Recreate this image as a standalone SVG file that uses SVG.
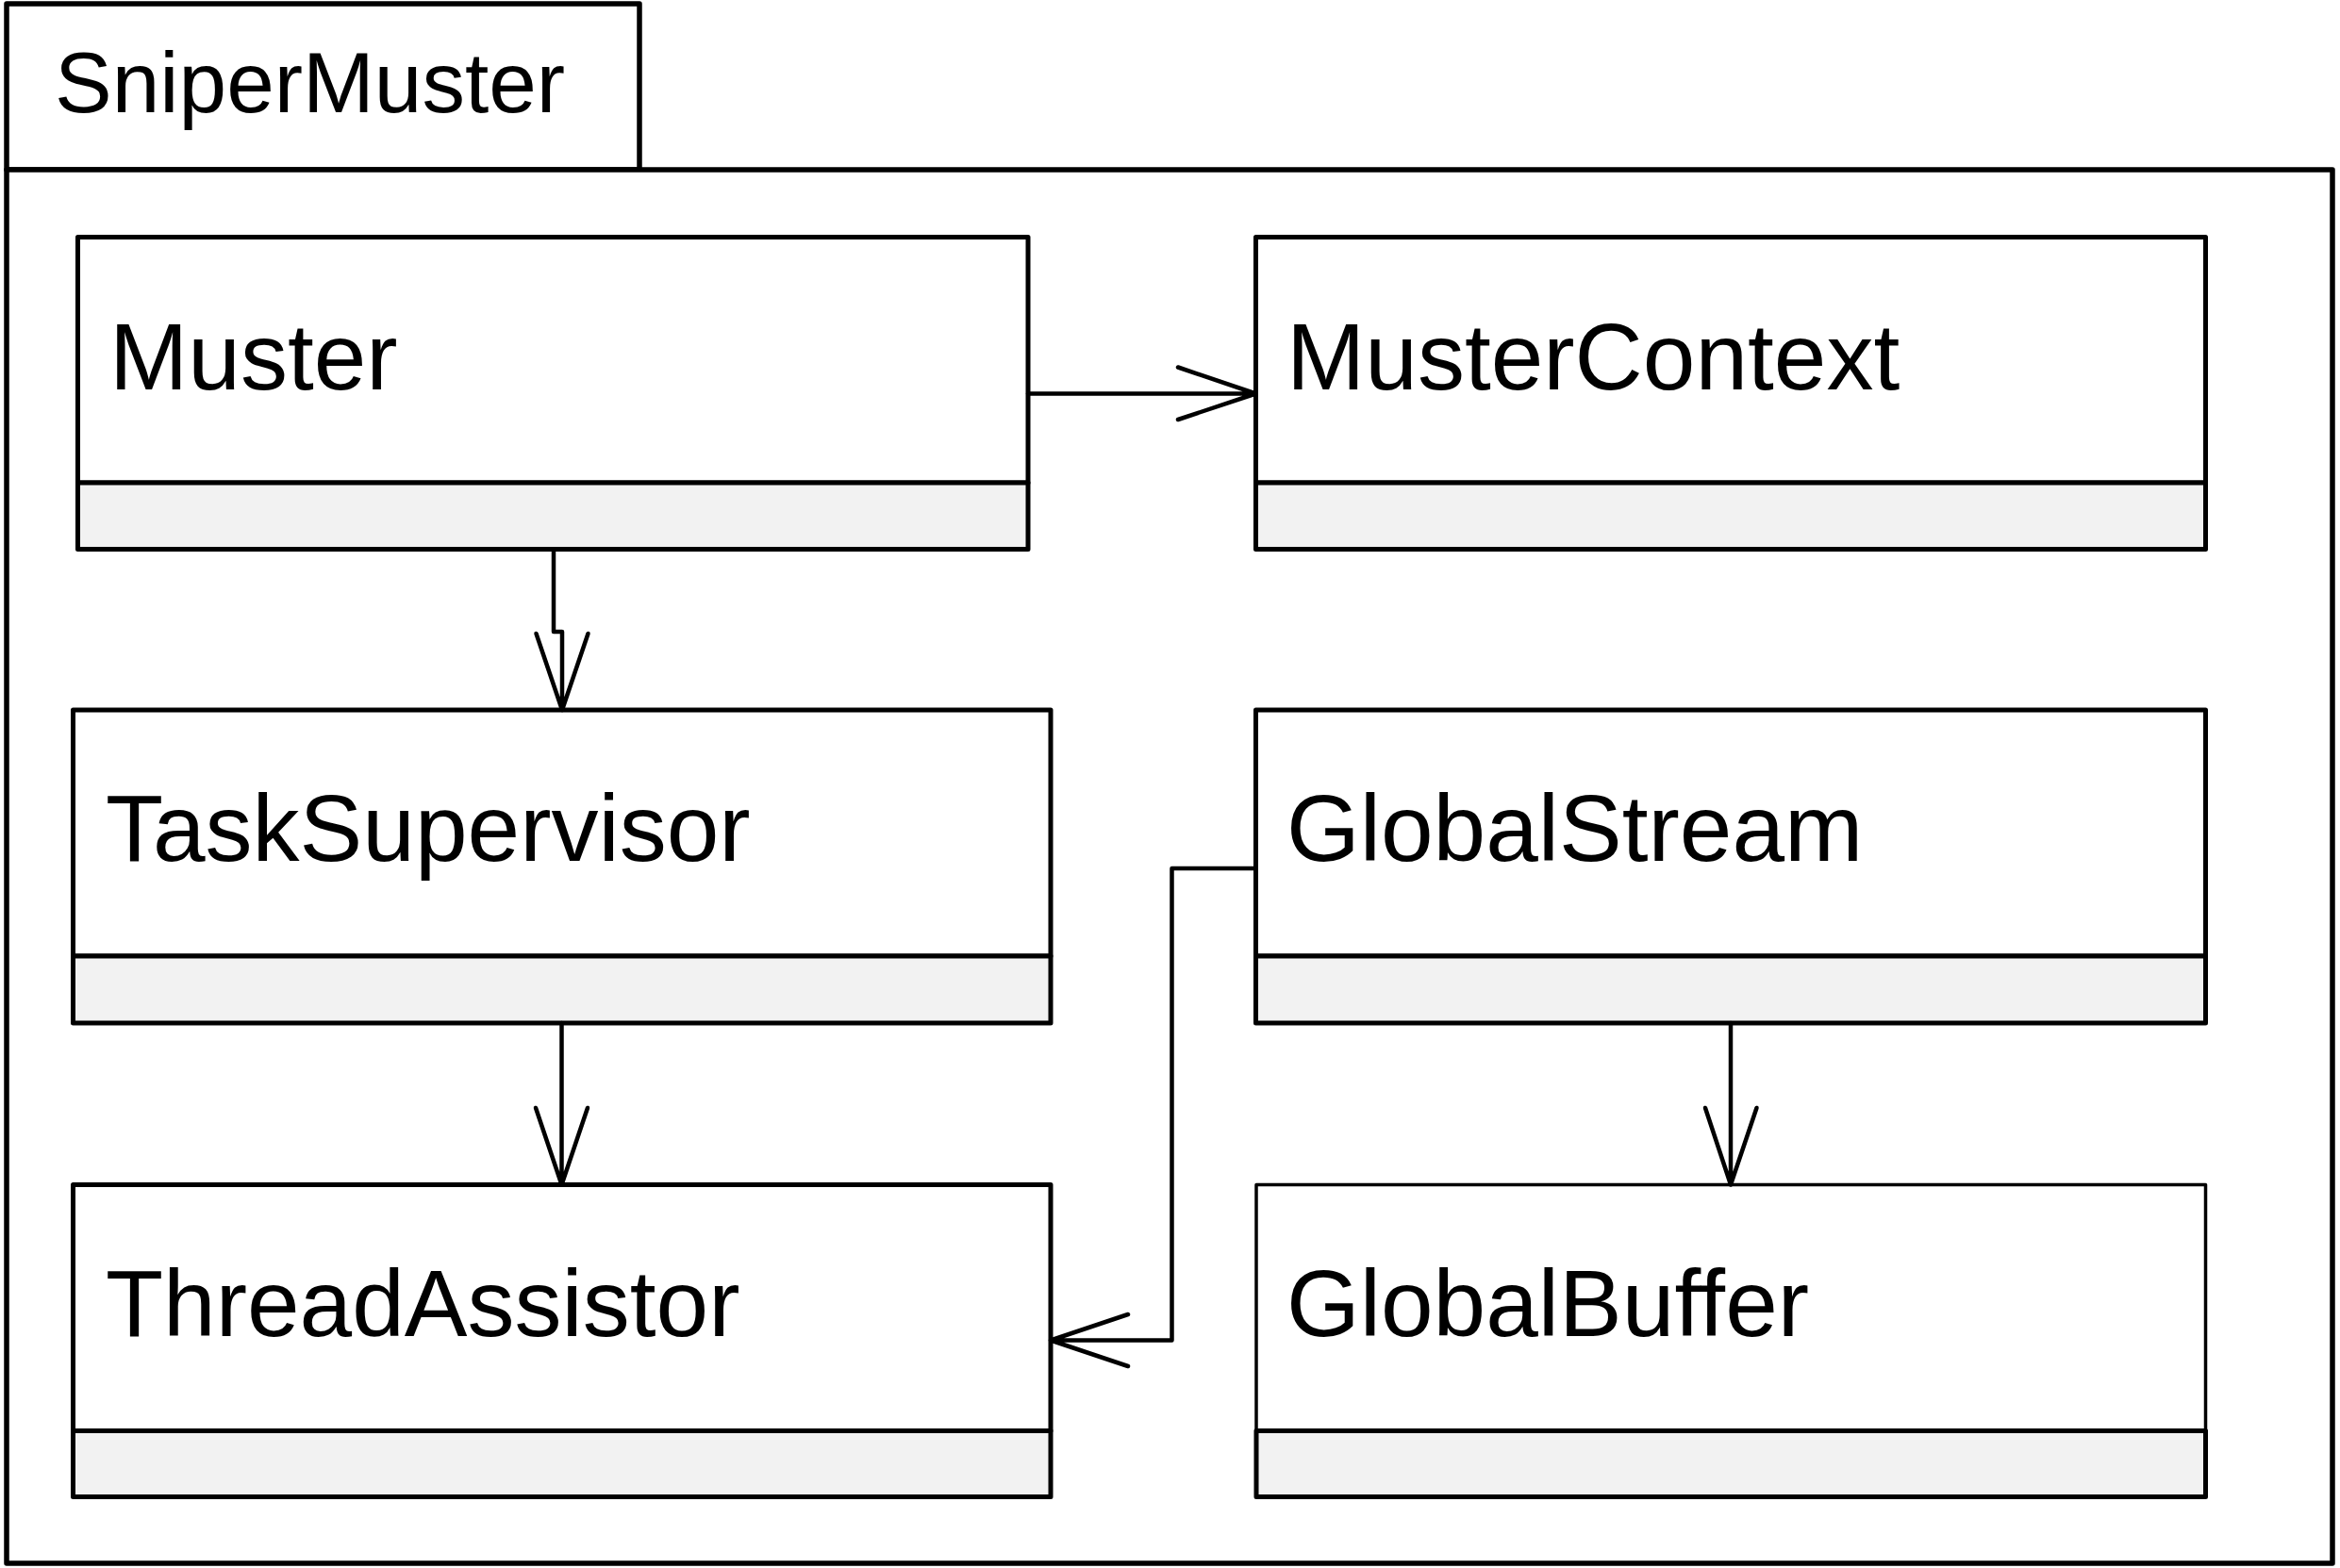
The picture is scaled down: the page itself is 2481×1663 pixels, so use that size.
<svg xmlns="http://www.w3.org/2000/svg" width="2481" height="1663" viewBox="0 0 2481 1663">
<style>
.pkg{fill:#fff;stroke:#000;stroke-width:5.5;stroke-linejoin:round}
.box{fill:#fff;stroke:#000;stroke-width:5;stroke-linejoin:round}
.box.thin{stroke-width:3.5}
.ops{fill:#f2f2f2;stroke:#000;stroke-width:5;stroke-linejoin:round}
.lbl{font-family:"Liberation Sans",Arial,sans-serif;font-size:100px;fill:#000}
.plbl{font-family:"Liberation Sans",Arial,sans-serif;font-size:91px;fill:#000}
.con{fill:none;stroke:#000;stroke-width:4.5;stroke-linejoin:round;stroke-linecap:round}
</style>
<rect width="2481" height="1663" fill="#fff"/>
<g id="package">
<rect class="pkg" x="7" y="4" width="671" height="176"/>
<rect class="pkg" x="7" y="180" width="2466" height="1478"/>
<text class="plbl" x="58" y="119">SniperMuster</text>
</g>
<g id="Muster">
<rect class="box" x="82.5" y="251.5" width="1007.5" height="260.5"/>
<rect class="ops" x="82.5" y="512" width="1007.5" height="70.5"/>
<text class="lbl" x="116" y="413">Muster</text>
</g>
<g id="MusterContext">
<rect class="box" x="1331.5" y="251.5" width="1007" height="260.5"/>
<rect class="ops" x="1331.5" y="512" width="1007" height="70.5"/>
<text class="lbl" x="1364" y="413">MusterContext</text>
</g>
<g id="TaskSupervisor">
<rect class="box" x="77.5" y="753" width="1036.5" height="261"/>
<rect class="ops" x="77.5" y="1014" width="1036.5" height="71"/>
<text class="lbl" x="112" y="913">TaskSupervisor</text>
</g>
<g id="GlobalStream">
<rect class="box" x="1331.5" y="753" width="1007" height="261"/>
<rect class="ops" x="1331.5" y="1014" width="1007" height="71"/>
<text class="lbl" x="1364" y="913">GlobalStream</text>
</g>
<g id="ThreadAssistor">
<rect class="box" x="77.5" y="1256.5" width="1036.5" height="261"/>
<rect class="ops" x="77.5" y="1517.5" width="1036.5" height="70"/>
<text class="lbl" x="112" y="1417">ThreadAssistor</text>
</g>
<g id="GlobalBuffer">
<rect class="box thin" x="1332" y="1256.5" width="1006.5" height="261"/>
<rect class="ops" x="1332" y="1517.5" width="1006.5" height="70"/>
<text class="lbl" x="1364" y="1417">GlobalBuffer</text>
</g>
<g id="connectors">
<path class="con" d="M1090,417.5 H1331.5 M1249,389.5 L1331.5,417.5 L1249,445"/>
<path class="con" d="M587,582.5 V670 H596 V753 M568.5,672 L596,753 L623.5,672"/>
<path class="con" d="M595.5,1085 V1256.5 M568,1175 L595.5,1256.5 L623,1175"/>
<path class="con" d="M1835,1085 V1256.5 M1808,1175 L1835,1256.5 L1862.5,1175"/>
<path class="con" d="M1331.5,921 H1242.5 V1421.5 H1114 M1196,1394 L1114,1421.5 L1196,1449"/>
</g>
</svg>
